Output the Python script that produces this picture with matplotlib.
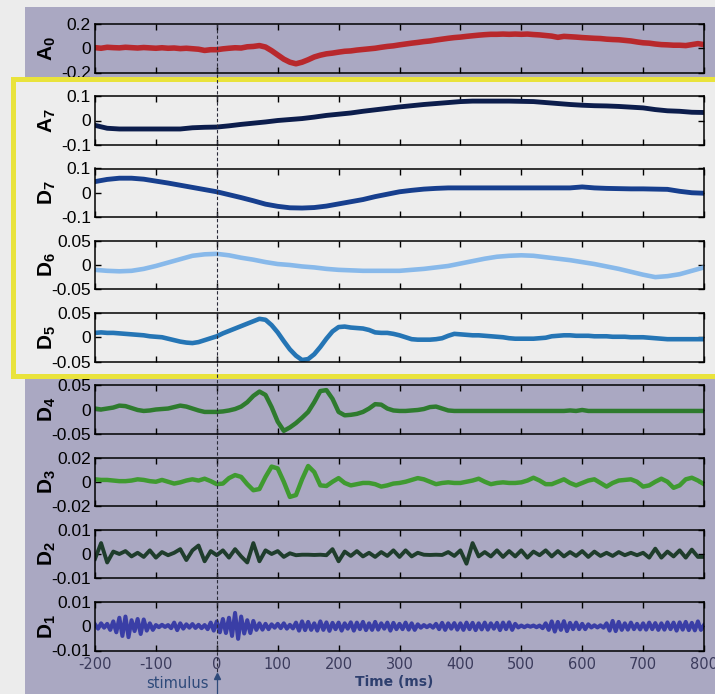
import numpy as np
import matplotlib.pyplot as plt
from matplotlib.patches import Rectangle
from matplotlib.lines import Line2D

plt.rcParams['axes.unicode_minus'] = False
plt.rcParams['font.family'] = ['Liberation Sans', 'DejaVu Sans']
plt.rcParams['mathtext.fontset'] = 'custom'
plt.rcParams['mathtext.rm'] = 'Liberation Sans'
plt.rcParams['mathtext.bf'] = 'Liberation Sans:bold'

# time bases (ms)
t20 = np.arange(-200, 801, 20)
t10 = np.arange(-200, 801, 10)
t5 = np.arange(-200, 801, 5)

# approximation A0 (10 ms)
a0 = [0.005, 0.0, 0.008, 0.005, 0.003, 0.008, 0.005, 0.002, 0.006, 0.003,
      0.0, 0.004, 0.0, 0.002, -0.003, 0.0, -0.004, -0.008, -0.018, -0.012,
      -0.012, -0.005, 0.0, 0.004, 0.002, 0.012, 0.015, 0.022, 0.01, -0.02,
      -0.055, -0.09, -0.115, -0.128, -0.115, -0.095, -0.072, -0.057, -0.046, -0.04,
      -0.032, -0.025, -0.022, -0.015, -0.01, -0.005, 0.0, 0.008, 0.015, 0.02,
      0.028, 0.035, 0.042, 0.048, 0.055, 0.06, 0.068, 0.075, 0.082, 0.088,
      0.092, 0.098, 0.103, 0.108, 0.112, 0.115, 0.115, 0.117, 0.115, 0.117,
      0.115, 0.117, 0.113, 0.11, 0.105, 0.1, 0.09, 0.098, 0.095, 0.092,
      0.088, 0.085, 0.082, 0.08, 0.075, 0.072, 0.07, 0.065, 0.06, 0.052,
      0.045, 0.042, 0.035, 0.03, 0.028, 0.025, 0.025, 0.022, 0.03, 0.038,
      0.03]

# approximation A7 (20 ms)
a7 = [-0.02, -0.032, -0.035, -0.035, -0.035, -0.035, -0.035, -0.035, -0.03, -0.028,
      -0.027, -0.022, -0.016, -0.011, -0.006, 0.0, 0.004, 0.008, 0.014, 0.021,
      0.026, 0.031, 0.038, 0.044, 0.05, 0.056, 0.061, 0.066, 0.07, 0.074,
      0.078, 0.08, 0.08, 0.08, 0.08, 0.079, 0.078, 0.074, 0.07, 0.066,
      0.063, 0.061, 0.06, 0.058, 0.055, 0.052, 0.045, 0.04, 0.038, 0.034,
      0.033]

# detail D7 (20 ms)
d7 = [0.046, 0.055, 0.06, 0.06, 0.056, 0.048, 0.04, 0.031, 0.022, 0.013,
      0.004, -0.008, -0.02, -0.033, -0.047, -0.056, -0.062, -0.063, -0.061, -0.055,
      -0.046, -0.037, -0.028, -0.016, -0.006, 0.004, 0.01, 0.015, 0.018, 0.02,
      0.02, 0.02, 0.02, 0.02, 0.02, 0.02, 0.02, 0.02, 0.02, 0.02,
      0.024, 0.02, 0.018, 0.017, 0.016, 0.016, 0.015, 0.014, 0.006, 0.0,
      -0.002]

# detail D6 (20 ms)
d6 = [-0.01, -0.012, -0.013, -0.012, -0.008, -0.002, 0.005, 0.012, 0.019, 0.022,
      0.023, 0.02, 0.015, 0.011, 0.006, 0.002, 0.0, -0.003, -0.005, -0.008,
      -0.01, -0.011, -0.012, -0.012, -0.012, -0.012, -0.01, -0.008, -0.005, -0.002,
      0.003, 0.008, 0.013, 0.017, 0.019, 0.02, 0.019, 0.016, 0.013, 0.01,
      0.006, 0.002, -0.003, -0.008, -0.014, -0.02, -0.025, -0.023, -0.019, -0.012,
      -0.005]

# detail D5 (10 ms)
d5 = [0.009, 0.01, 0.009, 0.009, 0.008, 0.007, 0.006, 0.005, 0.004, 0.002,
      0.001, 0.0, -0.003, -0.006, -0.009, -0.011, -0.012, -0.01, -0.006, -0.002,
      0.002, 0.008, 0.013, 0.018, 0.023, 0.028, 0.033, 0.038, 0.036, 0.025,
      0.01, -0.008, -0.025, -0.038, -0.047, -0.045, -0.035, -0.02, -0.003, 0.012,
      0.021, 0.022, 0.02, 0.019, 0.018, 0.015, 0.01, 0.009, 0.009, 0.007,
      0.004, 0.0, -0.004, -0.005, -0.005, -0.005, -0.004, -0.002, 0.003, 0.007,
      0.006, 0.005, 0.004, 0.004, 0.003, 0.002, 0.001, 0.0, -0.002, -0.003,
      -0.003, -0.003, -0.003, -0.002, -0.001, 0.002, 0.003, 0.004, 0.004, 0.003,
      0.003, 0.003, 0.002, 0.002, 0.002, 0.001, 0.001, 0.001, 0.0, 0.0,
      0.0, -0.001, -0.002, -0.003, -0.004, -0.004, -0.004, -0.004, -0.004, -0.004,
      -0.004]

# detail D4 (10 ms)
d4 = [0.002, 0.0, 0.002, 0.004, 0.008, 0.007, 0.003, -0.001, -0.003, -0.002,
      0.0, 0.001, 0.002, 0.005, 0.008, 0.006, 0.002, -0.002, -0.005, -0.005,
      -0.005, -0.004, -0.002, 0.001, 0.006, 0.015, 0.028, 0.037, 0.03, 0.005,
      -0.025, -0.044, -0.037, -0.028, -0.017, -0.005, 0.015, 0.038, 0.04, 0.022,
      -0.005, -0.012, -0.011, -0.009, -0.005, 0.002, 0.011, 0.01, 0.002, -0.002,
      -0.003, -0.003, -0.002, -0.001, 0.001, 0.005, 0.006, 0.002, -0.002, -0.003,
      -0.003, -0.003, -0.003, -0.003, -0.003, -0.003, -0.003, -0.003, -0.003, -0.003,
      -0.003, -0.003, -0.003, -0.003, -0.003, -0.003, -0.003, -0.003, -0.002, -0.003,
      -0.001, -0.003, -0.003, -0.003, -0.003, -0.003, -0.003, -0.003, -0.003, -0.003,
      -0.003, -0.003, -0.003, -0.003, -0.003, -0.003, -0.003, -0.003, -0.003, -0.003,
      -0.003]

# detail D3 (10 ms)
d3 = [0.002, 0.0015, 0.0015, 0.001, 0.0005, 0.0005, 0.001, 0.002, 0.0015, 0.0005,
      0.0, 0.0015, 0.0, -0.0015, -0.0005, 0.001, 0.002, 0.001, 0.0025, 0.0005,
      -0.002, -0.0015, 0.003, 0.0055, 0.004, -0.002, -0.007, -0.006, 0.004, 0.0125,
      0.011, 0.0, -0.0125, -0.011, 0.002, 0.013, 0.008, -0.003, -0.0035, 0.0,
      0.003, -0.001, -0.003, -0.002, -0.001, -0.001, -0.002, -0.004, -0.003, -0.0015,
      -0.001, 0.0, 0.0015, 0.003, 0.002, 0.0, -0.002, -0.001, -0.0005, -0.001,
      -0.001, 0.0, 0.001, 0.0025, 0.0, -0.002, -0.001, -0.0005, -0.001, -0.001,
      -0.0005, 0.001, 0.0033, 0.001, -0.002, -0.002, 0.0, 0.002, -0.001, -0.003,
      -0.001, 0.001, 0.002, -0.001, -0.004, -0.001, 0.001, 0.0015, 0.002, 0.0,
      -0.004, -0.003, 0.0, 0.0025, 0.0, -0.005, -0.003, 0.002, 0.0033, 0.001,
      -0.002]

# detail D2 (10 ms)
d2 = [-0.002, 0.0045, -0.0035, 0.001, 0.0, 0.0012, -0.001, 0.0005, -0.0012, 0.0015,
      -0.0015, 0.0008, -0.0005, 0.0005, 0.002, -0.0025, 0.0015, 0.0035, -0.003, 0.0012,
      -0.0005, 0.0015, -0.0015, 0.002, -0.001, -0.0035, 0.0045, -0.003, 0.0015, 0.0,
      0.0012, -0.0012, 0.0003, -0.0005, -0.0003, -0.0003, -0.0004, -0.0003, -0.0005, 0.002,
      -0.003, 0.001, -0.0008, 0.0012, -0.001, 0.0005, -0.0012, 0.0008, -0.0008, 0.0015,
      -0.0012, 0.0015, -0.001, 0.0005, -0.0003, -0.0004, -0.0003, -0.0004, 0.0008, -0.0008,
      0.0015, -0.004, 0.0045, -0.001, 0.0008, -0.001, 0.0015, -0.0012, 0.0012, -0.001,
      0.0015, -0.0015, 0.001, -0.0005, 0.0015, -0.001, 0.0012, -0.001, 0.0008, -0.0008,
      0.0012, -0.0012, 0.001, -0.0008, 0.0005, -0.0008, 0.0008, -0.0005, 0.0005, -0.0005,
      0.0005, -0.0015, 0.0022, -0.0015, 0.001, -0.001, 0.0015, -0.0015, 0.0018, -0.0012,
      -0.0012]

# detail D1 (5 ms)
d1 = [0.0008, -0.001, 0.0012, -0.0006, 0.001, -0.0015, 0.002, -0.0025, 0.0035, -0.004,
      0.004, -0.0045, 0.0025, -0.002, 0.003, -0.0032, 0.0028, -0.0018, 0.0012, -0.0015,
      0.0005, -0.0004, 0.0006, -0.0003, 0.0005, -0.0008, 0.0015, -0.0016, 0.0012, -0.001,
      0.0008, -0.0006, 0.0009, -0.0007, 0.0006, -0.0008, 0.0005, -0.0012, 0.0015, -0.0018,
      0.002, -0.0025, 0.003, -0.0028, 0.0035, -0.004, 0.0055, -0.0052, 0.004, -0.003,
      0.0025, -0.0028, 0.0022, -0.0015, 0.0012, -0.0014, 0.001, -0.0012, 0.0008, -0.0006,
      0.001, -0.0008, 0.0012, -0.001, 0.0006, -0.0009, 0.0015, -0.0018, 0.002, -0.0016,
      0.0018, -0.0015, 0.0012, -0.0018, 0.002, -0.0015, 0.0016, -0.0019, 0.0014, -0.0012,
      0.0015, -0.0018, 0.0012, -0.001, 0.0016, -0.0018, 0.0015, -0.0012, 0.0018, -0.0016,
      0.0012, -0.0015, 0.0018, -0.0014, 0.0012, -0.001, 0.0015, -0.0018, 0.0014, -0.0012,
      0.001, -0.0012, 0.0015, -0.0014, 0.0012, -0.0015, 0.0008, -0.0006, 0.0005, -0.0004,
      0.0005, -0.0006, 0.001, -0.0012, 0.0014, -0.0015, 0.0012, -0.001, 0.0013, -0.0014,
      0.0012, -0.0015, 0.0015, -0.0012, 0.0014, -0.0016, 0.0012, -0.0013, 0.0015, -0.0014,
      0.0012, -0.001, 0.0014, -0.0016, 0.0015, -0.0012, 0.0016, -0.0015, 0.001, -0.0005,
      0.0003, -0.0004, 0.0003, -0.0002, 0.0003, -0.0004, 0.0003, -0.0008, 0.0012, -0.0015,
      0.002, -0.0022, 0.0018, -0.0015, 0.0021, -0.002, 0.0014, -0.0012, 0.0015, -0.0012,
      0.001, -0.0012, 0.0008, -0.0005, 0.0004, -0.0005, 0.0004, -0.0006, 0.0012, -0.0018,
      0.0022, -0.002, 0.0018, -0.0015, 0.0012, -0.0014, 0.0015, -0.0012, 0.001, -0.0013,
      0.0012, -0.0014, 0.0015, -0.0012, 0.0013, -0.0015, 0.0012, -0.0014, 0.0016, -0.0012,
      0.0015, -0.0018, 0.0016, -0.0014, 0.0018, -0.0016, 0.0014, -0.0017, 0.002, -0.0015,
      0.0005]

xticks = np.arange(-200, 801, 100)
xticklabels = [str(v) for v in xticks]

# name, time, values, y-limit, colour, line width
panels = [
    ('A_0', t10, a0, 0.2, '#b8282c', 4.0),
    ('A_7', t20, a7, 0.1, '#0c1d4c', 3.5),
    ('D_7', t20, d7, 0.1, '#173f8e', 3.5),
    ('D_6', t20, d6, 0.05, '#88b9ea', 3.3),
    ('D_5', t10, d5, 0.05, '#2575b5', 3.3),
    ('D_4', t10, d4, 0.05, '#2e7b2e', 3.2),
    ('D_3', t10, d3, 0.02, '#3f9a30', 3.2),
    ('D_2', t10, d2, 0.01, '#1f3d2c', 2.8),
    ('D_1', t5, d1, 0.01, '#3a3ea6', 2.9),
]

W, H = 715, 694


def fx(x):
    return x / W


def fy(y):
    return 1 - y / H


fig = plt.figure(figsize=(W / 100, H / 100), dpi=100)
fig.patch.set_facecolor('#ececec')

# grey-lavender backdrop and the yellow highlight box
fig.add_artist(Rectangle((fx(25), 0), 1, fy(7), transform=fig.transFigure,
                         facecolor='#aaa8c2', edgecolor='none', zorder=-2))
fig.add_artist(Rectangle((fx(12.5), fy(376)), 1, (376 - 79.5) / H,
                         transform=fig.transFigure, facecolor='#ededed',
                         edgecolor='#e9e33c', lw=3.6, zorder=0.5))

x0, x1 = 95, 704
axes_h = 48.5
for k, (name, t, v, lim, col, lw) in enumerate(panels):
    top = 24 + 72.25 * k
    ax = fig.add_axes([fx(x0), fy(top + axes_h), (x1 - x0) / W, axes_h / H])
    ax.set_zorder(0 if k == 0 else 1)
    ax.set_facecolor('none')
    ax.plot(t, v, color=col, lw=lw, solid_joinstyle='round')
    ax.set_xlim(-200, 800)
    ax.set_ylim(-lim, lim)
    ax.set_xticks(xticks)
    ax.set_yticks([-lim, 0, lim])
    ax.set_yticklabels([f'-{lim:g}', '0', f'{lim:g}'])
    ax.tick_params(direction='in', top=True, right=True, length=4, width=1,
                   labelsize=12.5, pad=3)
    for s in ax.spines.values():
        s.set_linewidth(1.1)
    ax.set_ylabel(r'$\mathbf{%s}$' % name, fontsize=15)
    ax.yaxis.set_label_coords(-0.06, 0.5)
    if k == len(panels) - 1:
        ax.set_xticklabels(xticklabels, family='DejaVu Sans', fontsize=10.5,
                           color='#3b3b5c')
        ax.tick_params(axis='x', pad=5)
    else:
        ax.tick_params(labelbottom=False)

# stimulus onset marker
fig.add_artist(Line2D([fx(216.7)] * 2, [fy(24), fy(676)], transform=fig.transFigure,
                      color='#2a2a38', lw=0.8, ls=(0, (3, 2)), zorder=10))
fig.add_artist(Line2D([fx(216.7)] * 2, [fy(676), fy(694)], transform=fig.transFigure,
                      color='#2e4a7a', lw=0.9, zorder=10))
fig.add_artist(Line2D([fx(216.7)], [fy(676)], transform=fig.transFigure,
                      marker='^', markersize=5, color='#2e4a7a', zorder=10))

fig.text(fx(177), fy(684), 'stimulus', ha='center', va='center',
         family='DejaVu Sans', fontsize=10.5, color='#2e4a7a')
fig.text(fx(355), fy(682), 'Time (ms)', ha='left', va='center',
         family='DejaVu Sans', fontsize=10, fontweight='bold', color='#2e3f6e')

fig.savefig('out.png', dpi=100)
